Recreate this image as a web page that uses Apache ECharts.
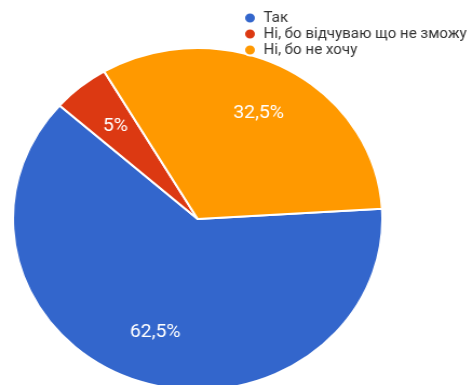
<!DOCTYPE html>
<html>
<head>
<meta charset="utf-8">
<script src="https://cdn.jsdelivr.net/npm/echarts@6/dist/echarts.min.js"></script>
<style>
html,body{margin:0;padding:0;background:#fff;overflow:hidden;width:471px;height:385px;}
#main{width:436px;height:385px;transform:scaleX(1.08);transform-origin:0 0;}
</style>
</head>
<body>
<div id="main"></div>
<script>
const categories = ['Так', 'Ні, бо відчуваю що не зможу', 'Ні, бо не хочу'];
const values = [62.5, 5, 32.5];
const colors = ['#3366cc', '#dc3912', '#ff9900'];

const data = categories.map((c, i) => ({ name: c, value: values[i], itemStyle: { color: colors[i] } }));
const labelData = categories.map((c, i) => ({ name: c, value: values[i] }));

const chart = echarts.init(document.getElementById('main'), null, { renderer: 'canvas' });
chart.setOption({
  animation: false,
  legend: {
    orient: 'vertical',
    left: 225,
    top: 11,
    icon: 'circle',
    itemWidth: 11,
    itemHeight: 11,
    itemGap: 2,
    padding: 0,
    data: categories,
    textStyle: { fontFamily: 'Roboto', fontSize: 14, lineHeight: 14, color: '#333', padding: [0, 0, 0, 2] }
  },
  series: [
    {
      type: 'pie',
      center: [183, 219],
      radius: [0, 171],
      startAngle: 3.4,
      clockwise: true,
      silent: true,
      label: { show: false },
      labelLine: { show: false },
      itemStyle: { borderColor: '#fff', borderWidth: 2 },
      emphasis: { disabled: true },
      data: data
    },
    {
      type: 'pie',
      center: [183, 219],
      radius: [0, 234],
      startAngle: 3.4,
      clockwise: true,
      silent: true,
      itemStyle: { color: 'rgba(0,0,0,0)' },
      emphasis: { disabled: true },
      label: {
        show: true,
        position: 'inside',
        color: '#fff',
        fontFamily: 'Roboto',
        fontSize: 18,
        formatter: p => String(p.percent).replace('.', ',') + '%'
      },
      labelLine: { show: false },
      data: labelData
    }
  ]
});
</script>
</body>
</html>
